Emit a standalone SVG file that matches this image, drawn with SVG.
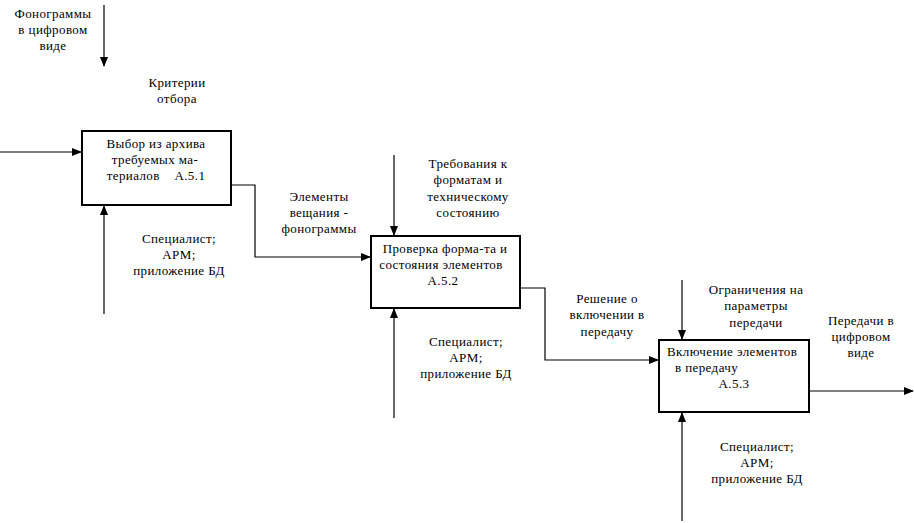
<svg xmlns="http://www.w3.org/2000/svg" width="914" height="523" viewBox="0 0 914 523">
<defs>
<marker id="ah" markerWidth="10" markerHeight="8" refX="9" refY="4" orient="auto" markerUnits="userSpaceOnUse">
<path d="M0,0 L10,4 L0,8 Z" fill="#000"/>
</marker>
<style>
text{font-family:"Liberation Serif","Times New Roman",serif;font-size:13px;fill:#000;letter-spacing:0.4px}
.c{text-anchor:middle}
.box{fill:#fff;stroke:#000;stroke-width:2}
.ln{fill:none;stroke:#000;stroke-width:1.2}
</style>
</defs>
<rect width="914" height="523" fill="#fff"/>
<g id="connectors">
<path class="ln" d="M104,5 V66" marker-end="url(#ah)"/>
<path class="ln" d="M0,152 H81" marker-end="url(#ah)"/>
<path class="ln" d="M104,314 V206" marker-end="url(#ah)"/>
<path class="ln" d="M232,185 H255 V257 H370" marker-end="url(#ah)"/>
<path class="ln" d="M394,155 V235" marker-end="url(#ah)"/>
<path class="ln" d="M394,418 V309" marker-end="url(#ah)"/>
<path class="ln" d="M521,288 H545 V360 H658" marker-end="url(#ah)"/>
<path class="ln" d="M682,280 V339" marker-end="url(#ah)"/>
<path class="ln" d="M682,521 V413" marker-end="url(#ah)"/>
<path class="ln" d="M810,391 H913" marker-end="url(#ah)"/>
</g>
<g id="label-phonograms">
<text class="c" x="53" y="18">Фонограммы</text>
<text class="c" x="53" y="34">в цифровом</text>
<text class="c" x="53" y="50">виде</text>
</g>
<g id="label-criteria">
<text class="c" x="177" y="87">Критерии</text>
<text class="c" x="177" y="103">отбора</text>
</g>
<g id="node-a51">
<rect class="box" x="82" y="131" width="149" height="74"/>
<text class="c" x="156" y="148">Выбор из архива</text>
<text class="c" x="155" y="164">требуемых ма-</text>
<text class="c" x="156" y="180" style="white-space:pre">териалов    А.5.1</text>
</g>
<g id="label-mech1">
<text class="c" x="179" y="243">Специалист;</text>
<text class="c" x="179" y="259">АРМ;</text>
<text class="c" x="179" y="275">приложение БД</text>
</g>
<g id="label-elements">
<text class="c" x="319" y="201">Элементы</text>
<text class="c" x="319" y="217">вещания -</text>
<text class="c" x="319" y="233">фонограммы</text>
</g>
<g id="label-requirements">
<text class="c" x="468" y="168">Требования к</text>
<text class="c" x="468" y="184">форматам и</text>
<text class="c" x="468" y="201">техническому</text>
<text class="c" x="468" y="217">состоянию</text>
</g>
<g id="node-a52">
<rect class="box" x="371" y="236" width="149" height="72"/>
<text class="c" x="445" y="253">Проверка форма-та и</text>
<text class="c" x="441" y="269">состояния элементов</text>
<text class="c" x="443" y="285">А.5.2</text>
</g>
<g id="label-mech2">
<text class="c" x="466" y="346">Специалист;</text>
<text class="c" x="466" y="362">АРМ;</text>
<text class="c" x="466" y="378">приложение БД</text>
</g>
<g id="label-decision">
<text class="c" x="607" y="303">Решение о</text>
<text class="c" x="607" y="319">включении в</text>
<text class="c" x="607" y="336">передачу</text>
</g>
<g id="label-limits">
<text class="c" x="756" y="294">Ограничения на</text>
<text class="c" x="756" y="310">параметры</text>
<text class="c" x="756" y="327">передачи</text>
</g>
<g id="label-output">
<text class="c" x="861" y="325">Передачи в</text>
<text class="c" x="861" y="341">цифровом</text>
<text class="c" x="861" y="357">виде</text>
</g>
<g id="node-a53">
<rect class="box" x="659" y="340" width="150" height="72"/>
<text x="667" y="356">Включение элементов</text>
<text x="675" y="372">в передачу</text>
<text class="c" x="734" y="388">А.5.3</text>
</g>
<g id="label-mech3">
<text class="c" x="757" y="451">Специалист;</text>
<text class="c" x="757" y="467">АРМ;</text>
<text class="c" x="757" y="483">приложение БД</text>
</g>
</svg>
